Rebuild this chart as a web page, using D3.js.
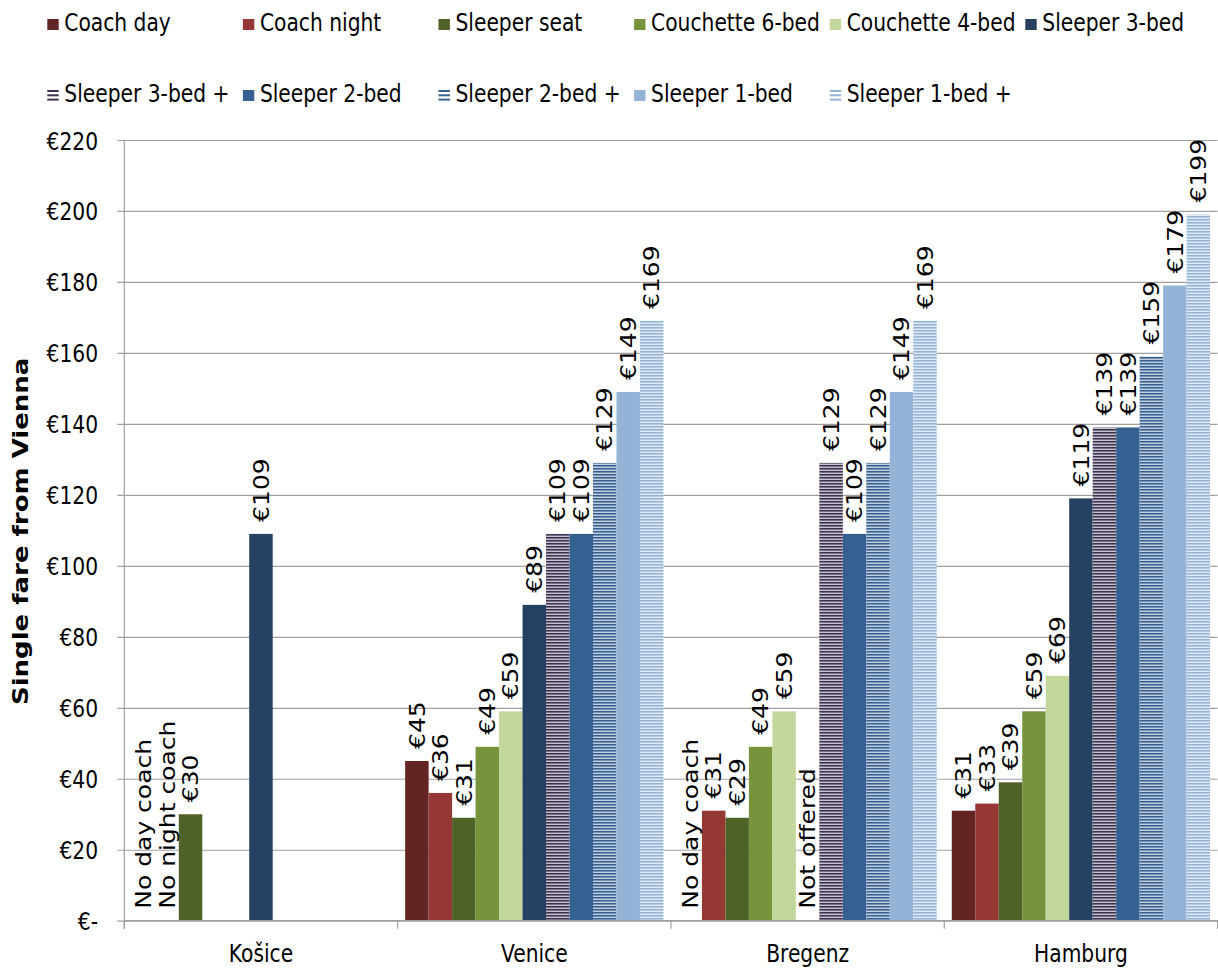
<!DOCTYPE html>
<html>
<head>
<meta charset="utf-8">
<script src="https://cdn.jsdelivr.net/npm/d3@7/dist/d3.min.js"></script>
<style>
  html, body { margin: 0; padding: 0; background: #ffffff; }
  svg { display: block; }
  text { font-family: 'DejaVu Sans', Verdana, sans-serif; fill: #000; }
</style>
</head>
<body>
<svg id="chart" width="1218" height="968"></svg>
<script>
// ---------- data ----------
const categories = ["Košice", "Venice", "Bregenz", "Hamburg"];
const seriesNames = ["Coach day", "Coach night", "Sleeper seat", "Couchette 6-bed", "Couchette 4-bed",
  "Sleeper 3-bed", "Sleeper 3-bed +", "Sleeper 2-bed", "Sleeper 2-bed +", "Sleeper 1-bed", "Sleeper 1-bed +"];
const seriesColors = ["#632523", "#953735", "#4F6228", "#77933C", "#C3D69B",
  "#254061", "#3F3151", "#376092", "#376092", "#95B3D7", "#95B3D7"];
const seriesStriped = [false, false, false, false, false, false, true, false, true, false, true];

const coachDay       = [0, 45, 0, 31];
const coachNight     = [0, 36, 31, 33];
const sleeperSeat    = [30, 29, 29, 39];
const couchette6     = [null, 49, 49, 59];
const couchette4     = [null, 59, 59, 69];
const sleeper3       = [109, 89, 0, 119];
const sleeper3Plus   = [null, 109, 129, 139];
const sleeper2       = [null, 109, 109, 139];
const sleeper2Plus   = [null, 129, 129, 159];
const sleeper1       = [null, 149, 149, 179];
const sleeper1Plus   = [null, 169, 169, 199];

const coachDayLabels     = ["No day coach", "€45", "No day coach", "€31"];
const coachNightLabels   = ["No night coach", "€36", "€31", "€33"];
const sleeperSeatLabels  = ["€30", "€31", "€29", "€39"];
const couchette6Labels   = ["", "€49", "€49", "€59"];
const couchette4Labels   = ["", "€59", "€59", "€69"];
const sleeper3Labels     = ["€109", "€89", "Not offered", "€119"];
const sleeper3PlusLabels = ["", "€109", "€129", "€139"];
const sleeper2Labels     = ["", "€109", "€109", "€139"];
const sleeper2PlusLabels = ["", "€129", "€129", "€159"];
const sleeper1Labels     = ["", "€149", "€149", "€179"];
const sleeper1PlusLabels = ["", "€169", "€169", "€199"];

const yTicks = [0, 20, 40, 60, 80, 100, 120, 140, 160, 180, 200, 220];
const yTitle = "Single fare from Vienna";

const seriesValues = [coachDay, coachNight, sleeperSeat, couchette6, couchette4, sleeper3,
  sleeper3Plus, sleeper2, sleeper2Plus, sleeper1, sleeper1Plus];
const seriesLabels = [coachDayLabels, coachNightLabels, sleeperSeatLabels, couchette6Labels,
  couchette4Labels, sleeper3Labels, sleeper3PlusLabels, sleeper2Labels, sleeper2PlusLabels,
  sleeper1Labels, sleeper1PlusLabels];

// ---------- layout ----------
const svg = d3.select("#chart");
const plotLeft = 124.3, plotRight = 1217.6, plotTop = 140, plotBottom = 920.7;
const SX = 0.81; // horizontal squeeze of text

const x0 = d3.scaleBand().domain(categories).range([plotLeft, plotRight])
  .paddingInner(0.055).paddingOuter(0.0275);
const x1 = d3.scaleBand().domain(seriesNames).range([0, x0.bandwidth()]).padding(0);
const y = d3.scaleLinear().domain([0, 220]).range([plotBottom, plotTop]);

// patterns
const defs = svg.append("defs");
seriesNames.forEach((s, i) => {
  if (!seriesStriped[i]) return;
  const p = defs.append("pattern").attr("id", "stripe" + i)
    .attr("patternUnits", "userSpaceOnUse").attr("width", 6).attr("height", 3)
    .attr("y", plotBottom);
  p.append("rect").attr("width", 6).attr("height", 3).attr("fill", "#ffffff");
  p.append("rect").attr("width", 6).attr("height", 2).attr("fill", seriesColors[i]);
});
const fillFor = i => seriesStriped[i] ? `url(#stripe${i})` : seriesColors[i];

// gridlines + y axis
const yAxis = d3.axisLeft(y).tickValues(yTicks)
  .tickSizeInner(-(plotRight - plotLeft)).tickSizeOuter(0)
  .tickFormat(d => d === 0 ? "€-" : "€" + d);
const gy = svg.append("g").attr("transform", `translate(${plotLeft},0)`).call(yAxis);
gy.select(".domain").remove();
gy.selectAll(".tick line").attr("x1", -7).attr("stroke", "#a0a0a0").attr("stroke-width", 1.2);
gy.selectAll(".tick text")
  .attr("x", -26.3 / SX).attr("dy", "0.36em")
  .attr("transform", `scale(${SX},1)`)
  .attr("font-size", 25).attr("font-family", "'DejaVu Sans', Verdana, sans-serif")
  .attr("fill", "#000");

// y axis line
svg.append("line").attr("x1", plotLeft).attr("x2", plotLeft)
  .attr("y1", plotTop).attr("y2", plotBottom + 8).attr("stroke", "#a0a0a0").attr("stroke-width", 1.2);

// bars
const groups = svg.append("g").selectAll("g.cat").data(categories).join("g")
  .attr("class", "cat").attr("transform", c => `translate(${x0(c)},0)`);

seriesNames.forEach((s, si) => {
  groups.each(function(c, ci) {
    const v = seriesValues[si][ci];
    if (v === null || v === 0) return;
    d3.select(this).append("rect")
      .attr("x", x1(s)).attr("width", x1.bandwidth())
      .attr("y", y(v)).attr("height", y(0) - y(v))
      .attr("fill", fillFor(si));
  });
});

// x axis baseline and boundary ticks
svg.append("line").attr("x1", plotLeft).attr("x2", plotRight)
  .attr("y1", plotBottom).attr("y2", plotBottom).attr("stroke", "#a0a0a0").attr("stroke-width", 1.2);
d3.range(categories.length + 1).forEach(i => {
  const xx = plotLeft + i * x0.step();
  svg.append("line").attr("x1", xx).attr("x2", xx)
    .attr("y1", plotBottom).attr("y2", plotBottom + 8).attr("stroke", "#a0a0a0").attr("stroke-width", 1.2);
});
svg.append("g").selectAll("text").data(categories).join("text")
  .attr("transform", c => `translate(${x0(c) + x0.bandwidth() / 2},962) scale(${SX},1)`)
  .attr("text-anchor", "middle").attr("font-size", 25).text(c => c);

// data labels
seriesNames.forEach((s, si) => {
  groups.each(function(c, ci) {
    const v = seriesValues[si][ci];
    const lab = seriesLabels[si][ci];
    if (v === null || !lab) return;
    const cx = x1(s) + x1.bandwidth() / 2;
    d3.select(this).append("text")
      .attr("transform", `translate(${cx},${y(v) - 12}) rotate(-90) scale(1,0.85)`)
      .attr("dy", "0.36em").attr("text-anchor", "start")
      .attr("font-size", 25).text(lab);
  });
});

// y title
svg.append("text")
  .attr("transform", `translate(21,${(plotTop + plotBottom) / 2 + 1}) rotate(-90) scale(1,0.8)`)
  .attr("text-anchor", "middle").attr("dy", "0.36em")
  .attr("font-size", 26).attr("font-weight", "bold").text(yTitle);

// legend
const legX0 = 47.3, legStep = 195.6;
const legRows = [31, 102];
seriesNames.forEach((s, i) => {
  const row = i < 6 ? 0 : 1;
  const col = i < 6 ? i : i - 6;
  const lx = legX0 + col * legStep;
  const base = legRows[row];
  const g = svg.append("g");
  if (seriesStriped[i]) {
    [0, 1, 2].forEach(k => {
      g.append("rect").attr("x", lx).attr("y", base - 12 + k * 4.3).attr("width", 11.4).attr("height", 2)
        .attr("fill", seriesColors[i]);
    });
  } else {
    g.append("rect").attr("x", lx).attr("y", base - 12).attr("width", 11.4).attr("height", 11)
      .attr("fill", seriesColors[i]);
  }
  g.append("text").attr("transform", `translate(${lx + 17},${base}) scale(${SX},1)`)
    .attr("font-size", 25).text(s);
});
</script>
</body>
</html>
